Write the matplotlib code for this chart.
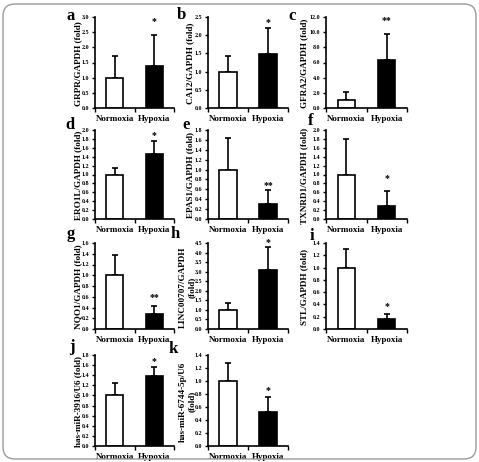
import matplotlib
matplotlib.use("Agg")
import matplotlib.pyplot as plt
from matplotlib.patches import FancyBboxPatch
import numpy as np

categories = ["Normoxia", "Hypoxia"]

letters = ["a", "b", "c", "d", "e", "f", "g", "h", "i", "j", "k"]
ylabels = ["GRPR/GAPDH (fold)", "CA12/GAPDH (fold)", "GFRA2/GAPDH (fold)",
           "ERO1L/GAPDH (fold)", "EPAS1/GAPDH (fold)", "TXNRD1/GAPDH (fold)",
           "NQO1/GAPDH (fold)", "LINC00707/GAPDH\n(fold)", "STL/GAPDH (fold)",
           "has-miR-3916/U6 (fold)", "has-miR-6744-5p/U6\n(fold)"]
means = [[1.0, 1.4], [1.0, 1.47], [1.05, 6.35],
         [1.0, 1.45], [1.0, 0.30], [1.0, 0.30],
         [1.0, 0.27], [1.0, 3.10], [1.0, 0.16],
         [1.0, 1.38], [1.0, 0.52]]
errs = [[0.72, 1.0], [0.42, 0.73], [1.1, 3.35],
        [0.15, 0.30], [0.63, 0.28], [0.80, 0.32],
        [0.37, 0.15], [0.35, 1.20], [0.30, 0.09],
        [0.25, 0.18], [0.27, 0.23]]
stars = ["*", "*", "**", "*", "**", "*", "**", "*", "*", "*", "*"]
star_y = [2.85, 2.35, 11.5, 1.88, 0.68, 0.92, 0.58, 4.52, 0.36, 1.68, 0.86]
ymax = [3.0, 2.5, 12.0, 2.0, 1.8, 2.0, 1.6, 4.5, 1.4, 1.8, 1.4]
ystep = [0.5, 0.5, 2.0, 0.2, 0.2, 0.2, 0.2, 0.5, 0.2, 0.2, 0.2]

W, H = 479, 462
fig = plt.figure(figsize=(W / 100, H / 100), dpi=100)
serif = "Liberation Serif"

# layout in pixels: (left, right) per column, (top, bottom) per row
cols = [(95, 174), (208, 288), (326, 407)]
rows = [(17, 108), (130, 219), (243, 329), (355, 446)]
letter_pos = [(71, 16), (181, 15), (292, 16), (70, 125), (186, 125), (311, 121),
              (71, 234), (175, 234), (312, 236), (72, 347), (173, 349)]
ylab_x = [78, 190, 304, 78, 190, 304, 78, 187, 304, 78, 187]

for i in range(11):
    r, c = divmod(i, 3)
    l, rr = cols[c]
    t, b = rows[r]
    ax = fig.add_axes([l / W, 1 - b / H, (rr - l) / W, (b - t) / H])
    x = np.arange(2)
    m = means[i]
    e = errs[i]
    ax.bar(x, m, width=0.43, color=["white", "black"], edgecolor="black",
           linewidth=1.2, zorder=2)
    ax.errorbar(x, m, yerr=[[0, 0], e], fmt="none", ecolor="black",
                elinewidth=1.2, capsize=2, capthick=1.2, zorder=1)
    ax.text(1, star_y[i], stars[i], ha="center", va="center", clip_on=False,
            fontsize=7, fontweight="bold", family=serif)
    ax.set_xlim(-0.5, 1.5)
    ax.set_ylim(0, ymax[i])
    ticks = np.arange(0, ymax[i] + 1e-9, ystep[i])
    ax.set_yticks(ticks)
    ax.set_yticklabels([f"{v:.1f}" for v in ticks],
                       fontsize=4.3, fontweight="bold", family=serif)
    ax.set_xticks([-0.5, 0.5, 1.5])
    ax.set_xticklabels([])
    ax.set_xticks([0, 1], minor=True)
    ax.set_xticklabels(categories, minor=True, fontsize=6.5,
                       fontweight="bold", family=serif)
    ax.tick_params(axis="x", which="minor", length=0, pad=5)
    ax.tick_params(axis="x", which="major", length=3, width=1, direction="out")
    ax.tick_params(axis="y", length=2, width=1, direction="out", pad=2)
    ax.spines["top"].set_visible(False)
    ax.spines["right"].set_visible(False)
    ax.spines["left"].set_linewidth(1.2)
    ax.spines["bottom"].set_linewidth(1.2)
    fig.text(ylab_x[i] / W, 1 - ((t + b) / 2 + 1) / H, ylabels[i], rotation=90,
             ha="center", va="center", fontsize=6.6, fontweight="bold",
             family=serif, linespacing=1.15)
    lx, ly = letter_pos[i]
    fig.text(lx / W, 1 - ly / H, letters[i], ha="center", va="center",
             fontsize=12, fontweight="bold", family=serif)

frame = FancyBboxPatch((0.03, 0.03), 4.73, 4.55,
                       boxstyle="round,pad=0,rounding_size=0.12",
                       transform=fig.dpi_scale_trans, fill=False,
                       edgecolor="#9a9a9a", linewidth=1.0)
fig.patches.append(frame)

fig.savefig("out.png", dpi=100)
